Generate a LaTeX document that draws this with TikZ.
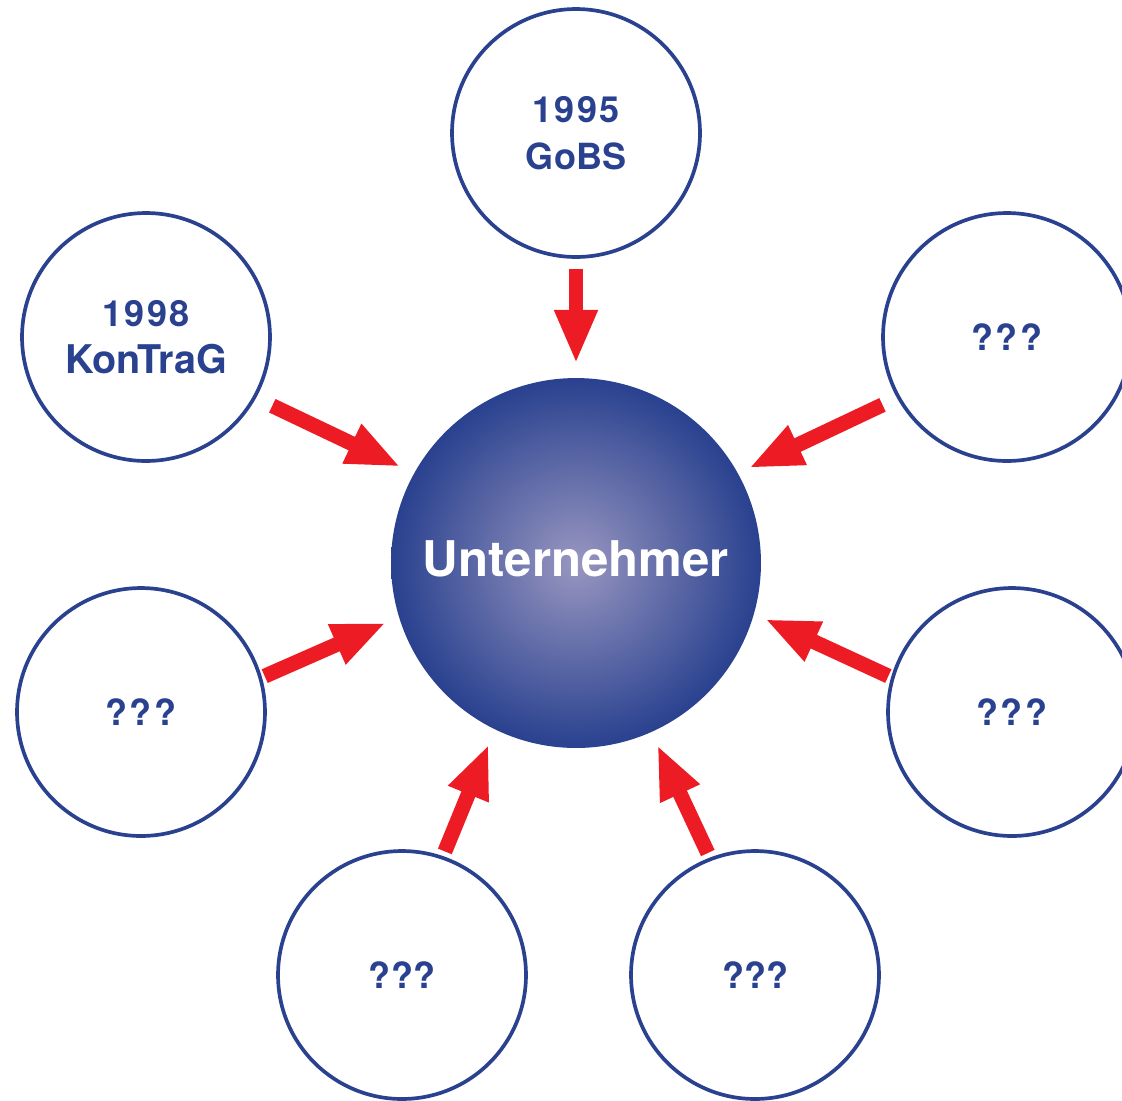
\documentclass[tikz,border=0pt]{standalone}
\usepackage{fontspec}
\setmainfont{TeX Gyre Heros}
\usepackage{xcolor}
\definecolor{lawblue}{RGB}{41,65,143}
\definecolor{spherelight}{RGB}{152,150,192}
\definecolor{mydarkred}{RGB}{237,28,36}
\usepackage{tikz}
\usetikzlibrary{arrows.meta}
\newcommand{\widthlaw}{4.96cm}
\newcommand{\widthowner}{7.4cm}
\newcommand{\spaced}[1]{{\addfontfeature{LetterSpace=7}#1}}
\newcommand{\lawbig}[1]{{\fontsize{22.5}{26.5}\selectfont#1}}
\tikzset{
    common/.style={circle, inner sep=0pt, align=center, font=\bfseries\fontsize{20.5}{26.5}\selectfont},
    law/.style={common, draw=lawblue, line width=2.1pt, text=lawblue, minimum size=\widthlaw},
    owner/.style={common, shade, inner color=spherelight, outer color=lawblue, text=white, text depth=5.6pt, minimum size=\widthowner, font=\bfseries\fontsize{28}{32}\selectfont},
    push/.style={-{Triangle[width=22.7pt, length=30.6pt]}, mydarkred, line width=8.5pt}
}
\begin{document}
\begin{tikzpicture}[x=0.02cm, y=-0.02cm]
      \useasboundingbox (0,0) rectangle (1122,1100);

      \path
          (576,563) node[owner] (owner) {Unternehmer}
          +(0,-430) node[law] (law-gobs) {\spaced{1995}\\GoBS}
          +(-430,-226) node[law] (law-kontrag) {\spaced{1998}\\\lawbig{KonTraG}}
          +(431,-226) node[law] (law-ne) {\spaced{???}}
          +(-435,149) node[law] (law-w) {\spaced{???}}
          +(436,149) node[law] (law-e) {\spaced{???}}
          +(-174,412) node[law] (law-sw) {???}
          +(179,412) node[law] (law-se) {???};

      \draw[push, shorten <=0.2cm, shorten >=0.28cm] (law-gobs.-90) -- (owner.90);
      \draw[push, shorten <=0.36cm, shorten >=0.3cm] (law-kontrag.-29) -- (owner.151);
      \draw[push, shorten <=0.32cm, shorten >=0.24cm] (law-ne.209) -- (owner.29);
      \draw[push, shorten <=0.06cm, shorten >=0.28cm] (law-w.16) -- (owner.197);
      \draw[push, shorten <=0.06cm, shorten >=0.24cm] (law-e.164) -- (owner.-16);
      \draw[push, shorten <=0.1cm, shorten >=0.32cm] (law-sw.71) -- (owner.244);
      \draw[push, shorten <=0.1cm, shorten >=0.28cm] (law-se.111) -- (owner.-66);
\end{tikzpicture}
\end{document}
